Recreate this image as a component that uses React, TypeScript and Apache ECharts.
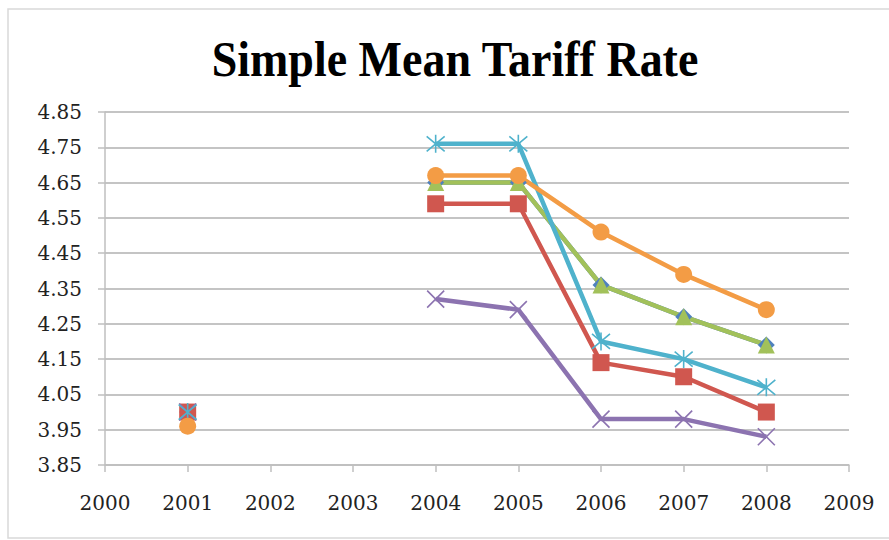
import React, { useEffect, useRef } from "react";
import * as echarts from "echarts";

const years = [2001, 2002, 2003, 2004, 2005, 2006, 2007, 2008];
const seriesBlue = [4.0, null, null, 4.65, 4.65, 4.36, 4.27, 4.19];
const seriesRed = [4.0, null, null, 4.59, 4.59, 4.14, 4.1, 4.0];
const seriesGreen = [null, null, null, 4.65, 4.65, 4.36, 4.27, 4.19];
const seriesPurple = [4.0, null, null, 4.32, 4.29, 3.98, 3.98, 3.93];
const seriesCyan = [4.0, null, null, 4.76, 4.76, 4.2, 4.15, 4.07];
const seriesOrange = [3.96, null, null, 4.67, 4.67, 4.51, 4.39, 4.29];

const title = "Simple Mean Tariff Rate";
const yMin = 3.85;
const yMax = 4.85;
const yStep = 0.1;
const xMin = 2000;
const xMax = 2009;

const X_SYMBOL = "path://M0,0L10,10M10,0L0,10";
const STAR_SYMBOL = "path://M0,0L10,10M10,0L0,10M5,-1L5,11";

export default function App() {
  const ref = useRef<HTMLDivElement>(null);
  useEffect(() => {
    if (!ref.current) return;
    const chart = echarts.init(ref.current, undefined, { renderer: "svg" });
    const toData = (vals: (number | null)[]) =>
      years.map((y, i) => [y, vals[i] == null ? null : +(vals[i]! - yMin).toFixed(4)]);
    const mk = (
      name: string,
      vals: (number | null)[],
      color: string,
      symbol: string,
      size: number,
      stroked = false
    ) => ({
      name,
      type: "line",
      data: toData(vals),
      connectNulls: false,
      showSymbol: true,
      showAllSymbol: true,
      symbol,
      symbolSize: size,
      lineStyle: { color, width: 4.5 },
      itemStyle: stroked
        ? { color: "none", borderColor: color, borderWidth: 1.6 }
        : { color, borderWidth: 0 },
      emphasis: { disabled: true },
      z: 2,
    });
    const font = '"DejaVu Serif"';
    chart.setOption({
      animation: false,
      backgroundColor: "#ffffff",
      grid: { left: 105, top: 112, width: 744, height: 353, containLabel: false },
      xAxis: {
        type: "value",
        min: xMin,
        max: xMax,
        interval: 1,
        axisLine: { show: true, lineStyle: { color: "#BFBFBF", width: 1.5 } },
        axisTick: { show: true, length: 7, inside: false, lineStyle: { color: "#BFBFBF", width: 1.5 } },
        splitLine: { show: false },
        axisLabel: {
          margin: 28,
          fontFamily: font,
          fontSize: 20,
          color: "#222",
          formatter: (v: number) => String(v),
        },
      },
      yAxis: {
        type: "value",
        min: 0,
        max: +(yMax - yMin).toFixed(4),
        interval: yStep,
        axisLine: { show: true, lineStyle: { color: "#BFBFBF", width: 1.5 } },
        axisTick: { show: true, length: 7, lineStyle: { color: "#BFBFBF", width: 1.5 } },
        splitLine: { show: true, lineStyle: { color: "#C4C4C4", width: 1.8 } },
        axisLabel: {
          margin: 23,
          fontFamily: font,
          fontSize: 20,
          color: "#222",
          formatter: (v: number) => (v + yMin).toFixed(2),
        },
      },
      graphic: [
        {
          type: "rect",
          shape: { x: 8, y: 9, width: 900, height: 529 },
          style: { fill: "none", stroke: "#D9D9D9", lineWidth: 1.5 },
          silent: true,
        },
        {
          type: "text",
          x: 455,
          y: 59,
          scaleX: 0.92,
          style: {
            text: title,
            font: 'bold 50px "Liberation Serif"',
            fill: "#000",
            align: "center",
            verticalAlign: "middle",
          },
        },
      ],
      series: [
        mk("Blue", seriesBlue, "#4F81BD", "diamond", 17),
        mk("Red", seriesRed, "#D0574F", "rect", 17),
        mk("Green", seriesGreen, "#A2C15A", "triangle", 17),
        mk("Purple", seriesPurple, "#8C73B0", X_SYMBOL, 17, true),
        mk("Cyan", seriesCyan, "#4FB2CC", STAR_SYMBOL, 18, true),
        mk("Orange", seriesOrange, "#F39C45", "circle", 17),
      ],
    });
    return () => chart.dispose();
  }, []);
  return (
    <div
      ref={ref}
      style={{ position: "fixed", left: 0, top: 0, width: 889, height: 540 }}
    />
  );
}
